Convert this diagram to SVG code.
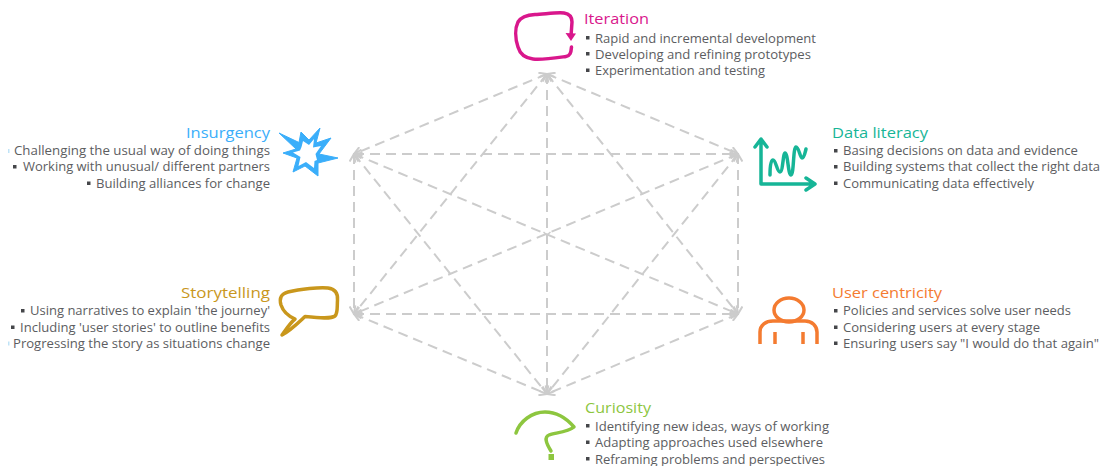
<svg xmlns="http://www.w3.org/2000/svg" width="1105" height="466" viewBox="0 0 1105 466">
<style>
text{font-family:"Open Sans","Noto Sans",sans-serif;fill:#5c5d61;font-size:13px}
.t{font-size:15px}
.e{text-anchor:end}
.ic{fill:none;stroke-width:3.5;stroke-linejoin:round;stroke-linecap:round}
.b{fill:#45464a}
#connectors line{stroke:#cccccc;stroke-width:2;stroke-dasharray:10 6;marker-start:url(#a);marker-end:url(#a)}
</style>
<defs>
<marker id="a" viewBox="0 0 8 8" refX="7" refY="4" markerWidth="5" markerHeight="5" orient="auto-start-reverse"><path d="M1 0.5 7 4 1 7.5" fill="none" stroke="#cccccc" stroke-width="1.6"/></marker>
</defs>
<rect width="1105" height="466" fill="#ffffff"/>
<g id="connectors">
<line x1="547" y1="74" x2="354" y2="154"/>
<line x1="547" y1="74" x2="738" y2="154"/>
<line x1="547" y1="74" x2="354" y2="314"/>
<line x1="547" y1="74" x2="738" y2="314"/>
<line x1="547" y1="74" x2="547" y2="394"/>
<line x1="354" y1="154" x2="738" y2="154"/>
<line x1="354" y1="154" x2="354" y2="314"/>
<line x1="354" y1="154" x2="738" y2="314"/>
<line x1="354" y1="154" x2="547" y2="394"/>
<line x1="738" y1="154" x2="354" y2="314"/>
<line x1="738" y1="154" x2="738" y2="314"/>
<line x1="738" y1="154" x2="547" y2="394"/>
<line x1="354" y1="314" x2="738" y2="314"/>
<line x1="354" y1="314" x2="547" y2="394"/>
<line x1="738" y1="314" x2="547" y2="394"/>
<path d="M543.500 232 547 235 550.500 232" fill="none" stroke="#cccccc" stroke-width="1.500"/>
</g>
<g id="iteration">
<path class="ic" stroke="#d9178c" d="M571.500 47C571 53 570 56 566 56.500C555 58 542 60 533 59C525 58 520 54 518 47C515 38 515 28 518 22C521 17 527 15 535 14.500C545 14 558 12 564 13C570 14 572 17 572 22L571 36"/>
<path fill="#d9178c" d="M565.500 33 576 33.500 571 41Z"/>
<text class="t" x="584" y="24" style="fill:#d9178c" textLength="65" lengthAdjust="spacingAndGlyphs">Iteration</text>
<rect class="b" x="586" y="36" width="3.500" height="3.500"/><text x="595" y="42.500" textLength="221" lengthAdjust="spacingAndGlyphs">Rapid and incremental development</text>
<rect class="b" x="586" y="52" width="3.500" height="3.500"/><text x="595" y="58.500" textLength="216" lengthAdjust="spacingAndGlyphs">Developing and refining prototypes</text>
<rect class="b" x="586" y="68.500" width="3.500" height="3.500"/><text x="595" y="75" textLength="170" lengthAdjust="spacingAndGlyphs">Experimentation and testing</text>
</g>
<g id="insurgency">
<path fill="#3aaefa" stroke="#3aaefa" stroke-width="1" stroke-linejoin="round" d="M279 133 299 142.500 301 132 309 140 320 128 316 143 331 138 319 154 338 158 318 163 318 176 305 166 293 172 297 158 283 153 296 149Z"/>
<path fill="#ffffff" d="M301.500 147 303 141 309 145 314 139 313 147.500 321 146 315.500 154 317 160 314.500 161 314 168 306 162 298.500 166 300.500 157 293 152.500 300 150.500Z"/>
<text class="t e" x="270" y="137.700" style="fill:#3aaefa" textLength="84" lengthAdjust="spacingAndGlyphs">Insurgency</text>
<rect x="8" y="149" width="1.500" height="4" fill="#bfe3f7"/><text class="e" x="270" y="155" textLength="256" lengthAdjust="spacingAndGlyphs">Challenging the usual way of doing things</text>
<rect class="b" x="13" y="165" width="3.500" height="3.500"/><text class="e" x="270" y="171" textLength="247" lengthAdjust="spacingAndGlyphs">Working with unusual/ different partners</text>
<rect class="b" x="87" y="181.500" width="3.500" height="3.500"/><text class="e" x="270" y="188" textLength="174" lengthAdjust="spacingAndGlyphs">Building alliances for change</text>
</g>
<g id="data-literacy">
<path class="ic" stroke="#16b597" d="M761 140V184H813M755 147 761 139 767 147M806 178 815 184 806 190"/>
<path class="ic" stroke="#16b597" d="M770 175C770 165 771 160 773 160C776 160 777 172 780 172C783 172 783 153 785 153C788 153 788 175 791 175C794 175 793 147 796 147C799 147 800 158 802 158C804 158 805 153 806 149"/>
<text class="t" x="832" y="137.700" style="fill:#16b597" textLength="96" lengthAdjust="spacingAndGlyphs">Data literacy</text>
<rect class="b" x="834" y="149" width="3.500" height="3.500"/><text x="843" y="155" textLength="235" lengthAdjust="spacingAndGlyphs">Basing decisions on data and evidence</text>
<rect class="b" x="834" y="165" width="3.500" height="3.500"/><text x="843" y="171" textLength="257" lengthAdjust="spacingAndGlyphs">Building systems that collect the right data</text>
<rect class="b" x="834" y="181.500" width="3.500" height="3.500"/><text x="843" y="188" textLength="191" lengthAdjust="spacingAndGlyphs">Communicating data effectively</text>
</g>
<g id="storytelling">
<path class="ic" stroke="#c9971c" d="M282 335C287 328 291 322 295 319C288 316 283 311 281 305C279 298 281 294 288 292C300 289 320 287 328 288C335 289 338 293 337.500 300C337 307 338 313 335 316C331 319 320 318 305 316.500C298 323 290 331 282 335Z"/>
<text class="t e" x="270" y="297.700" style="fill:#c9971c" textLength="89" lengthAdjust="spacingAndGlyphs">Storytelling</text>
<rect class="b" x="21" y="309" width="3.500" height="3.500"/><text class="e" x="270" y="315" textLength="240" lengthAdjust="spacingAndGlyphs">Using narratives to explain 'the journey'</text>
<rect class="b" x="11" y="325.500" width="3.500" height="3.500"/><text class="e" x="270" y="331.700" textLength="250" lengthAdjust="spacingAndGlyphs">Including 'user stories' to outline benefits</text>
<rect x="8" y="341.500" width="1.500" height="4" fill="#bfe3f7"/><text class="e" x="270" y="347.700" textLength="257" lengthAdjust="spacingAndGlyphs">Progressing the story as situations change</text>
</g>
<g id="user-centricity">
<ellipse class="ic" stroke="#f47b30" cx="789" cy="310" rx="15" ry="12"/>
<path class="ic" stroke="#f47b30" style="stroke-linecap:butt" d="M760 344V332C760 325 766 321 773 321H805C812 321 817 326 817 332V344M775 332V344M803 332V344"/>
<text class="t" x="832" y="297.700" style="fill:#f47b30" textLength="110" lengthAdjust="spacingAndGlyphs">User centricity</text>
<rect class="b" x="834" y="309" width="3.500" height="3.500"/><text x="843" y="315" textLength="228" lengthAdjust="spacingAndGlyphs">Policies and services solve user needs</text>
<rect class="b" x="834" y="325.500" width="3.500" height="3.500"/><text x="843" y="332" textLength="197" lengthAdjust="spacingAndGlyphs">Considering users at every stage</text>
<rect class="b" x="834" y="341.500" width="3.500" height="3.500"/><text x="843" y="348" textLength="256" lengthAdjust="spacingAndGlyphs">Ensuring users say "I would do that again"</text>
</g>
<g id="curiosity">
<path class="ic" stroke="#8dc63f" d="M516 433C520 421 532 412 545 412C558 412 568 420 574 427C568 432 554 433 549 435C544 437 546 443 551 451"/>
<rect x="548.500" y="454" width="5.500" height="6" fill="#8dc63f"/>
<text class="t" x="585" y="413" style="fill:#8dc63f" textLength="66" lengthAdjust="spacingAndGlyphs">Curiosity</text>
<rect class="b" x="586" y="424" width="3.500" height="3.500"/><text x="595" y="430.500" textLength="234" lengthAdjust="spacingAndGlyphs">Identifying new ideas, ways of working</text>
<rect class="b" x="586" y="440.500" width="3.500" height="3.500"/><text x="595" y="447" textLength="228" lengthAdjust="spacingAndGlyphs">Adapting approaches used elsewhere</text>
<rect class="b" x="586" y="457" width="3.500" height="3.500"/><text x="595" y="463.500" textLength="230" lengthAdjust="spacingAndGlyphs">Reframing problems and perspectives</text>
</g>
</svg>
